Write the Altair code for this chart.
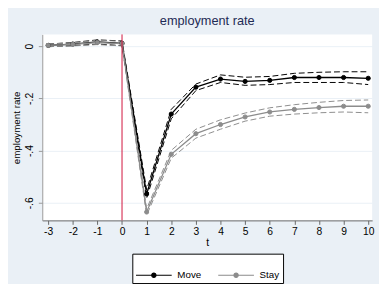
import altair as alt
import pandas as pd

t = [-3, -2, -1, 0, 1, 2, 3, 4, 5, 6, 7, 8, 9, 10]
move = [0.003, 0.008, 0.016, 0.011, -0.566, -0.260, -0.157, -0.126, -0.135, -0.131, -0.120, -0.120, -0.120, -0.123]
move_lo = [-0.002, 0.002, 0.008, 0.002, -0.582, -0.278, -0.170, -0.139, -0.150, -0.147, -0.139, -0.139, -0.139, -0.147]
move_hi = [0.008, 0.014, 0.024, 0.020, -0.550, -0.242, -0.145, -0.110, -0.119, -0.116, -0.104, -0.100, -0.098, -0.098]
stay = [0.003, 0.007, 0.014, 0.010, -0.635, -0.414, -0.335, -0.300, -0.271, -0.252, -0.242, -0.235, -0.230, -0.230]
stay_lo = [-0.002, 0.001, 0.006, 0.001, -0.647, -0.429, -0.352, -0.318, -0.287, -0.268, -0.260, -0.255, -0.252, -0.255]
stay_hi = [0.008, 0.013, 0.022, 0.019, -0.623, -0.399, -0.318, -0.282, -0.256, -0.236, -0.224, -0.215, -0.208, -0.206]
groups = ["Move", "Stay"]
colors = ["#000000", "#8c8c8c"]

rows = []
for g, est, lo, hi in [("Move", move, move_lo, move_hi), ("Stay", stay, stay_lo, stay_hi)]:
    for i, tt in enumerate(t):
        rows.append({"t": tt, "group": g, "est": est[i], "lo": lo[i], "hi": hi[i]})
df = pd.DataFrame(rows)

xscale = alt.Scale(domain=[-3.24, 10.16], nice=False, zero=False)
yscale = alt.Scale(domain=[-0.667, 0.045], nice=False, zero=False)
cscale = alt.Scale(domain=groups, range=colors)

font = "Liberation Sans"
sym_path = "M-1,0L1,0M-0.12,0A0.12,0.12 0 1,1 0.12,0A0.12,0.12 0 1,1 -0.12,0Z"

xaxis = alt.Axis(values=t, title="t", grid=False, domainColor="#666666", tickColor="#666666",
                 labelExpr="datum.value < 0 ? '-' + abs(datum.value) : '' + datum.value",
                 tickSize=4, labelFontSize=10.5, labelPadding=2, titlePadding=1, titleFontSize=10.5,
                 labelOverlap=False, labelFlush=False, labelBound=False,
                 labelColor="#000000", titleColor="#000000", labelFont=font, titleFont=font,
                 titleFontWeight="normal")
yaxis = alt.Axis(values=[0, -0.2, -0.4, -0.6], title="employment rate",
                 labelExpr="datum.value == 0 ? '0' : '-.' + round(abs(datum.value)*10)",
                 grid=True, gridColor="#eaf0f6", gridWidth=1, labelOverlap=False,
                 domainColor="#999999", tickColor="#999999", tickSize=4,
                 labelAngle=270, labelAlign="center", labelBaseline="bottom", labelPadding=4,
                 labelFontSize=10.5, titleFontSize=10, labelColor="#000000", titleColor="#000000",
                 labelFont=font, titleFont=font, titleFontWeight="normal",
                 titleAngle=270, titleX=-26, titleY=95, titleAlign="center", titleBaseline="middle")

legend = alt.Legend(
    title=None, orient="none", legendX=92, legendY=224, direction="horizontal",
    symbolType=sym_path, symbolSize=1330, symbolStrokeWidth=1.2,
    labelFontSize=10, labelFont=font, labelColor="#000000", labelOffset=5,
    columnPadding=14, padding=3, strokeColor="#000000", fillColor="#ffffff",
)

base = alt.Chart(df)
X = lambda: alt.X("t:Q", scale=xscale, axis=xaxis)

ci_lo = base.mark_line(strokeDash=[6, 3], strokeWidth=1).encode(
    x=X(),
    y=alt.Y("lo:Q", scale=yscale, axis=yaxis),
    stroke=alt.Stroke("group:N", scale=cscale, legend=legend),
)
ci_hi = base.mark_line(strokeDash=[6, 3], strokeWidth=1).encode(
    x=X(),
    y=alt.Y("hi:Q", scale=yscale, axis=yaxis),
    stroke=alt.Stroke("group:N", scale=cscale, legend=legend),
)
line = base.mark_line(strokeWidth=1.3).encode(
    x=X(),
    y=alt.Y("est:Q", scale=yscale, axis=yaxis),
    stroke=alt.Stroke("group:N", scale=cscale, legend=legend),
)
pts = base.mark_point(filled=True, size=18, strokeWidth=1, opacity=1).encode(
    x=X(),
    y=alt.Y("est:Q", scale=yscale, axis=yaxis),
    stroke=alt.Stroke("group:N", scale=cscale, legend=legend),
    fill=alt.Fill("group:N", scale=cscale, legend=legend),
)

vline = alt.Chart(pd.DataFrame({"t": [0]})).mark_rule(color="#d0103a", strokeWidth=1).encode(
    x=X()
)

chart = alt.layer(ci_lo, ci_hi, line, pts, vline).properties(
    width=337, height=190,
    autosize=alt.AutoSizeParams(type="none"),
    padding={"left": 35, "top": 24, "right": 7, "bottom": 62},
    background="#eaf0f6",
    title=alt.TitleParams("employment rate", fontSize=13, color="#1e2b55", font=font,
                          fontWeight="normal", offset=6),
).configure_view(stroke=None, fill="#ffffff").configure_axis(labelOverlap=False)

chart.save("out.html", embed_options={"renderer": "svg", "actions": False})
